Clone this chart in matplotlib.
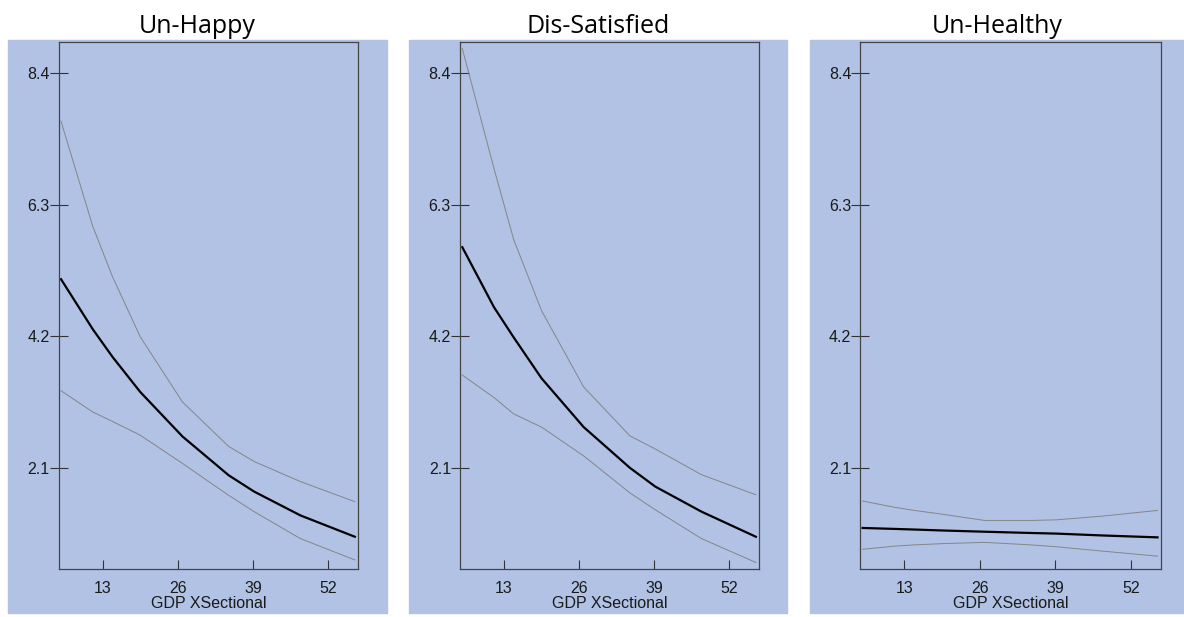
import matplotlib.pyplot as plt
from matplotlib.patches import Rectangle

# evaluation points along GDP (same for all three panels)
gdp = [5.8, 11.3, 14.7, 19.5, 26.8, 34.8, 39.2, 47.2, 56.6]

titles = ["Un-Happy", "Dis-Satisfied", "Un-Healthy"]

unhappy_fit = [5.11, 4.31, 3.87, 3.31, 2.60, 1.98, 1.72, 1.34, 1.00]
unhappy_hi = [7.63, 5.95, 5.15, 4.19, 3.15, 2.44, 2.20, 1.88, 1.56]
unhappy_lo = [3.33, 2.99, 2.84, 2.62, 2.17, 1.66, 1.40, 0.97, 0.63]

dissat_fit = [5.62, 4.66, 4.18, 3.53, 2.75, 2.10, 1.80, 1.40, 1.00]
dissat_hi = [8.79, 6.87, 5.74, 4.61, 3.39, 2.61, 2.40, 1.99, 1.67]
dissat_lo = [3.58, 3.22, 2.96, 2.75, 2.29, 1.70, 1.43, 0.97, 0.59]

unhealthy_fit = [1.14, 1.125, 1.115, 1.10, 1.08, 1.06, 1.05, 1.02, 0.99]
unhealthy_hi = [1.57, 1.47, 1.42, 1.36, 1.26, 1.26, 1.27, 1.33, 1.42]
unhealthy_lo = [0.80, 0.85, 0.87, 0.89, 0.91, 0.87, 0.84, 0.77, 0.69]

fits = [unhappy_fit, dissat_fit, unhealthy_fit]
highs = [unhappy_hi, dissat_hi, unhealthy_hi]
lows = [unhappy_lo, dissat_lo, unhealthy_lo]

xticks = [13, 26, 39, 52]
yticks = [2.1, 4.2, 6.3, 8.4]

W, H = 1184, 617
blue = "#B1C2E5"

plt.rcParams["font.family"] = ["Liberation Sans", "DejaVu Sans"]

fig = plt.figure(figsize=(W / 100, H / 100), dpi=100)

# pixel boxes: (blue left, blue right, axes left, axes right)
panels = [(8, 386.7, 58.7, 358.3), (409, 786.7, 460, 759.3), (810, 1184, 860.3, 1161)]
ax_top, ax_bot = 42.3, 568.7
bg_top, bg_bot = 40, 613

for i, (bl, br, al, ar) in enumerate(panels):
    bg = Rectangle((bl / W, 1 - bg_bot / H), (br - bl) / W, (bg_bot - bg_top) / H,
                   transform=fig.transFigure, color=blue, zorder=-10)
    fig.add_artist(bg)
    fig.text((bl + br) / 2 / W, 1 - 33 / H, titles[i], ha="center", va="baseline",
             fontsize=18, family=["Open Sans", "DejaVu Sans"])

    ax = fig.add_axes([al / W, 1 - ax_bot / H, (ar - al) / W, (ax_bot - ax_top) / H])
    ax.set_zorder(1)
    ax.set_facecolor(blue)
    ax.plot(gdp, highs[i], color="#858585", lw=0.7)
    ax.plot(gdp, lows[i], color="#858585", lw=0.7)
    ax.plot(gdp, fits[i], color="black", lw=1.6)

    ax.set_xlim(5.4, 57.2)
    ax.set_ylim(0.49, 8.89)
    ax.set_xticks(xticks)
    ax.set_yticks(yticks)
    ax.set_yticklabels([f"{v:.1f}" for v in yticks])
    ax.tick_params(axis="y", direction="inout", length=13, width=0.8, color="#333333",
                   pad=0, labelsize=11.5, labelcolor="#1a1a1a")
    ax.tick_params(axis="x", direction="in", length=6.5, width=0.8, color="#333333",
                   pad=8.5, labelsize=11.5, labelcolor="#1a1a1a")
    for s in ax.spines.values():
        s.set_color("#444444")
        s.set_linewidth(0.9)
    ax.set_xlabel("GDP XSectional", fontsize=11.5, color="#1a1a1a", labelpad=0.5)

fig.savefig("out.png", dpi=100)
